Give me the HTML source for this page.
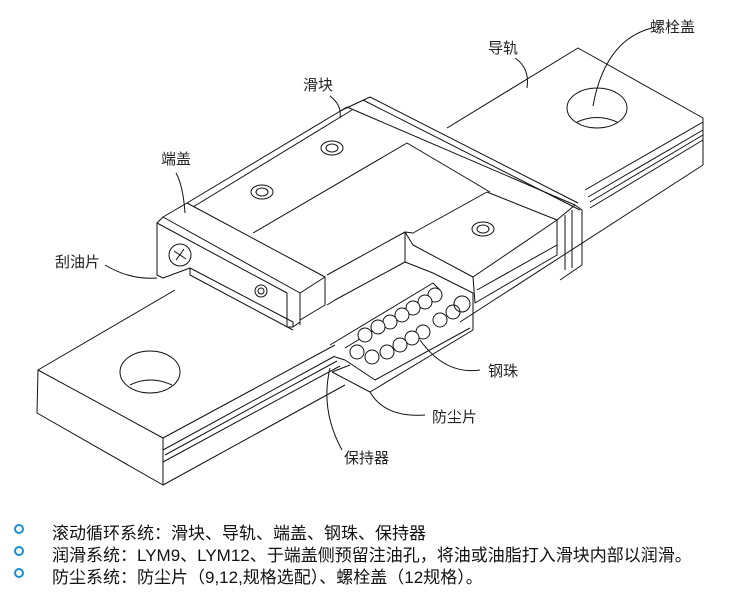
<!DOCTYPE html>
<html><head><meta charset="utf-8"><style>
html,body{margin:0;padding:0;background:#fff;}
body{width:750px;height:603px;overflow:hidden;position:relative;font-family:"Liberation Sans","Noto Sans CJK SC",sans-serif;}
svg{position:absolute;left:0;top:0;}
.t{position:absolute;font-size:15px;color:#222;white-space:nowrap;}
.b{position:absolute;left:52px;font-size:17px;color:#111;white-space:nowrap;}
.d{position:absolute;left:14px;width:6px;height:6px;border:2.5px solid #1a8fd6;border-radius:50%;}
</style></head><body>
<svg width="750" height="603" viewBox="0 0 750 603" fill="none" stroke="#111" stroke-width="1" stroke-linejoin="round">
<!-- rail left end -->
<path d="M38,370 L163,438 L163,485 L37,413 Z" fill="#fff"/>
<path d="M38,370 L175,290"/>
<path d="M163,438 L335,345"/>
<path d="M163,450 L335,356 M165,455 L337,361 M163,462 L340,366"/>
<path d="M163,485 L345,385"/>
<path d="M460,322 L703,165"/>
<!-- rail right end -->
<path d="M447,128 L578,48 L703,118 L703,165"/>
<path d="M703,122 L585,190 M703,130 L588,197 M703,135 L590,202 M703,140 L590,208"/>
<ellipse cx="150" cy="372" rx="30" ry="21"/>
<path d="M130,385 Q150,375 172,385"/>
<ellipse cx="597" cy="108" rx="30" ry="20"/>
<path d="M577,122 Q597,113 617,122"/>
<!-- block top -->
<path d="M187,203 L347,107 L575,205" fill="#fff"/>
<path d="M340,111 L370,97 L578,203"/>
<path d="M363,100 L580,210"/>
<path d="M193,207 L352,110"/>
<path d="M253,233 L407,143 L490,192"/>
<!-- end cap -->
<path d="M163,217 L187,203 L325,277 L300,293 Z" fill="#fff"/>
<path d="M163,217 L157,223 L157,275 L163,278 L190,268 L293,322 L293,327 L300,322 L300,293"/>
<path d="M157,223 L287,293 L287,327 L293,327"/>
<path d="M190,268 L190,275 L293,330"/>
<path d="M300,293 L300,325 M325,277 L325,305 L300,320"/>
<circle cx="180" cy="255" r="11"/>
<path d="M174,251 L186,259 M176,260 L184,249"/>
<circle cx="261" cy="291" r="6"/><circle cx="261" cy="291" r="3"/>
<!-- middle part cut -->
<path d="M327,275 L405,232 L405,262 L335,300 L327,305"/>
<path d="M405,232 L413,233 L487,192 L557,220 L473,277 L413,245 Z" fill="#fff"/>
<path d="M405,262 L433,273 L473,293 L473,330"/>
<path d="M473,277 L475,303 L557,255 L557,220"/>
<path d="M477,290 L557,245"/>
<path d="M557,220 L575,205 L582,210 L582,265 L560,280"/>
<path d="M565,215 L565,270 M572,210 L572,268"/>
<ellipse cx="483" cy="229" rx="11" ry="7"/><ellipse cx="483" cy="229" rx="6" ry="4"/>
<ellipse cx="332" cy="148" rx="11" ry="7"/><ellipse cx="332" cy="148" rx="6" ry="4"/>
<ellipse cx="262" cy="192" rx="11" ry="7"/><ellipse cx="262" cy="192" rx="6" ry="4"/>
<!-- ball channel -->
<path d="M330,345 L433,283 L440,290 L345,348"/>
<path d="M335,357 L345,360 L375,380 L470,328"/>
<path d="M332,372 L370,392 L473,330"/>
<path d="M332,372 L350,365"/>
<g fill="#fff">
<circle cx="435" cy="295" r="7"/><circle cx="425" cy="302" r="7"/><circle cx="413" cy="308" r="7"/><circle cx="402" cy="315" r="7"/><circle cx="390" cy="322" r="7"/><circle cx="378" cy="327" r="7"/><circle cx="365" cy="335" r="7"/>
<circle cx="453" cy="312" r="7"/><circle cx="440" cy="320" r="7"/><circle cx="423" cy="332" r="7"/><circle cx="412" cy="338" r="7"/><circle cx="400" cy="345" r="7"/><circle cx="387" cy="352" r="7"/><circle cx="372" cy="357" r="7"/><circle cx="357" cy="352" r="7"/>
</g>
<circle cx="462" cy="304" r="8"/>
<!-- leaders -->
<path d="M652,28 Q605,40 593,106"/>
<path d="M515,58 Q530,68 527,88"/>
<path d="M330,96 Q342,105 340,118"/>
<path d="M176,173 Q183,185 185,213"/>
<path d="M105,265 Q130,280 157,278"/>
<path d="M480,370 Q445,375 420,340"/>
<path d="M425,415 Q385,418 370,392"/>
<path d="M342,450 Q320,410 330,368"/>
</svg>
<div class="t" style="left:650px;top:16px">螺栓盖</div>
<div class="t" style="left:488px;top:37px">导轨</div>
<div class="t" style="left:303px;top:74px">滑块</div>
<div class="t" style="left:161px;top:148px">端盖</div>
<div class="t" style="left:55px;top:251px">刮油片</div>
<div class="t" style="left:488px;top:360px">钢珠</div>
<div class="t" style="left:432px;top:406px">防尘片</div>
<div class="t" style="left:344px;top:447px">保持器</div>
<div class="d" style="top:524px"></div>
<div class="b" style="top:519px">滚动循环系统：滑块、导轨、端盖、钢珠、保持器</div>
<div class="d" style="top:546px"></div>
<div class="b" style="top:541px">润滑系统：LYM9、LYM12、于端盖侧预留注油孔，将油或油脂打入滑块内部以润滑。</div>
<div class="d" style="top:568px"></div>
<div class="b" style="top:563px">防尘系统：防尘片（9,12,规格选配）、螺栓盖（12规格）。</div>
</body></html>
